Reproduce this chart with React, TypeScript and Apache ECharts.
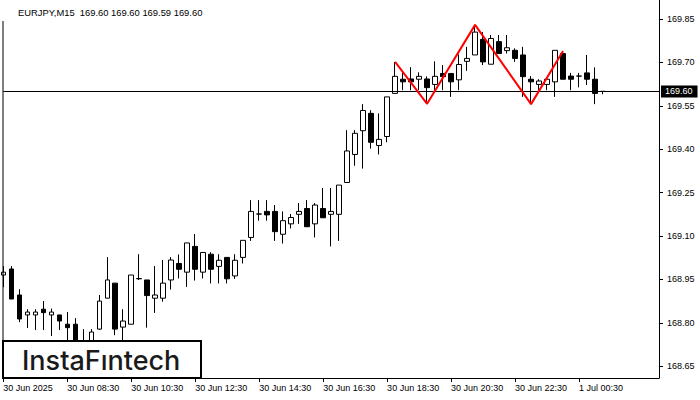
import React, { useEffect, useRef } from "react";
import * as echarts from "echarts";

const titleText = "EURJPY,M15  169.60 169.60 169.59 169.60";
const tickLabels = [
  "30 Jun 2025",
  "30 Jun 08:30",
  "30 Jun 10:30",
  "30 Jun 12:30",
  "30 Jun 14:30",
  "30 Jun 16:30",
  "30 Jun 18:30",
  "30 Jun 20:30",
  "30 Jun 22:30",
  "1 Jul 00:30",
];
const yTicks = [168.65, 168.8, 168.95, 169.1, 169.25, 169.4, 169.55, 169.7, 169.85];

const opens = [168.965,168.986,168.896,168.827,168.827,168.847,168.827,168.827,168.795,168.795,168.733,168.699,168.778,168.885,168.937,168.785,168.795,168.952,168.948,168.885,168.885,168.948,169.005,168.975,169.064,168.975,169.037,168.995,169.026,168.962,169.026,169.095,169.176,169.185,169.185,169.106,169.142,169.175,169.195,169.142,169.195,169.175,169.175,169.285,169.382,169.464,169.524,169.413,169.444,169.593,169.642,169.643,169.642,169.643,169.624,169.662,169.662,169.640,169.704,169.726,169.780,169.694,169.772,169.741,169.742,169.726,169.642,169.624,169.624,169.633,169.731,169.653,169.653,169.664,169.642,169.600];
const closes = [168.975,168.882,168.813,168.837,168.837,168.835,168.837,168.806,168.783,168.723,168.699,168.768,168.875,168.948,168.778,168.806,168.965,168.953,168.894,168.896,168.937,169.017,168.985,169.076,168.985,169.043,168.985,169.016,168.952,169.016,169.085,169.185,169.176,169.173,169.115,169.153,169.164,169.185,169.132,169.207,169.163,169.185,169.276,169.394,169.455,169.534,169.424,169.434,169.581,169.652,169.633,169.633,169.652,169.613,169.652,169.651,169.633,169.693,169.714,169.805,169.702,169.783,169.731,169.751,169.714,169.651,169.633,169.636,169.642,169.742,169.642,169.642,169.653,169.642,169.593,169.600];
const lows = [168.923,168.882,168.802,168.782,168.775,168.775,168.754,168.775,168.723,168.699,168.685,168.685,168.775,168.885,168.757,168.740,168.795,168.948,168.783,168.834,168.873,168.915,168.953,168.924,168.946,168.953,168.936,168.936,168.936,168.952,169.005,169.083,169.153,169.153,169.083,169.074,169.126,169.142,169.132,169.095,169.163,169.064,169.083,169.285,169.343,169.333,169.402,169.382,169.424,169.593,169.604,169.604,169.604,169.557,169.604,169.604,169.581,169.604,169.671,169.726,169.691,169.694,169.731,169.731,169.702,169.581,169.556,169.604,169.604,169.581,169.642,169.604,169.614,169.622,169.556,169.590];
const highs = [168.996,168.996,168.916,168.847,168.847,168.875,168.849,168.827,168.837,168.816,168.778,168.778,168.896,169.027,168.937,168.847,168.965,169.037,168.948,168.996,169.017,169.027,169.036,169.076,169.107,169.043,169.044,169.037,169.026,169.037,169.085,169.224,169.224,169.224,169.207,169.185,169.176,169.214,169.224,169.214,169.266,169.266,169.276,169.466,169.466,169.556,169.535,169.524,169.581,169.702,169.667,169.684,169.666,169.652,169.704,169.691,169.662,169.728,169.754,169.830,169.805,169.795,169.795,169.795,169.749,169.754,169.653,169.642,169.642,169.742,169.739,169.664,169.664,169.726,169.683,169.600];

const patternIdx = [49, 53, 59, 66, 70];
const patternPrice = [169.702, 169.557, 169.83, 169.556, 169.74];
const currentPrice = 169.6;

const START_MIN = 6 * 60 + 30;
const N_SLOTS = 83;
const categories = Array.from({ length: N_SLOTS }, (_, i) => {
  const m = START_MIN + 15 * i;
  const h = Math.floor(m / 60) % 24;
  const mm = m % 60;
  return `${String(h).padStart(2, "0")}:${String(mm).padStart(2, "0")}`;
});

const FONT = "Liberation Sans";

export default function App() {
  const ref = useRef<HTMLDivElement>(null);
  useEffect(() => {
    if (!ref.current) return;
    const chart = echarts.init(ref.current, undefined, { renderer: "svg" });
    const showTick = (i: number) => i % 8 === 0 && i <= 72;
    chart.setOption({
      animation: false,
      backgroundColor: "#ffffff",
      grid: { left: 3.3, right: 41, top: 0, bottom: 22, outerBoundsMode: "none" },
      xAxis: {
        type: "category",
        data: categories,
        boundaryGap: false,
        axisLine: { show: true, lineStyle: { color: "#000", width: 1 } },
        axisTick: { show: true, interval: (i: number) => showTick(i), length: 4, lineStyle: { color: "#000" } },
        axisLabel: {
          interval: (i: number) => showTick(i),
          formatter: (_v: string, i: number) => tickLabels[i / 8] ?? "",
          align: "left",
          color: "#000",
          fontSize: 9,
          fontFamily: FONT,
          margin: 5,
        },
        splitLine: { show: false },
      },
      yAxis: {
        type: "value",
        position: "right",
        min: 168.609,
        max: 169.916,
        scale: true,
        axisLine: { show: true, lineStyle: { color: "#000", width: 1 } },
        axisTick: { show: true, length: 4, customValues: yTicks, lineStyle: { color: "#000" } },
        axisLabel: {
          customValues: yTicks,
          formatter: (v: number) => v.toFixed(2),
          color: "#000",
          fontSize: 9,
          fontFamily: FONT,
          margin: 8,
        },
        splitLine: { show: false },
      },
      series: [
        {
          type: "candlestick",
          data: opens.map((o, i) => [o, closes[i], lows[i], highs[i]]),
          barWidth: 5,
          itemStyle: {
            color: "#ffffff",
            color0: "#000000",
            borderColor: "#000000",
            borderColor0: "#000000",
            borderWidth: 1,
          },
          emphasis: { disabled: true },
          markLine: {
            silent: true,
            symbol: ["none", "none"],
            data: [{ yAxis: currentPrice }],
            lineStyle: { color: "#000", width: 1, type: "solid" },
            label: {
              show: true,
              position: "end",
              formatter: currentPrice.toFixed(2),
              backgroundColor: "#000",
              color: "#fff",
              padding: [2, 5, 1, 4],
              fontSize: 9,
              fontFamily: FONT,
              distance: 2,
            },
          },
        },
        {
          type: "line",
          data: patternIdx.map((x, i) => [x, patternPrice[i]]),
          showSymbol: false,
          lineStyle: { color: "#ff0000", width: 2 },
          z: 5,
          silent: true,
        },
      ],
      graphic: [
        {
          type: "rect",
          shape: { x: 0, y: 0, width: 210, height: 21 },
          style: { fill: "#fff" },
          z: 10,
        },
        {
          type: "text",
          x: 18,
          y: 12,
          style: { text: titleText, fill: "#000", font: `9.4px "${FONT}"`, textVerticalAlign: "middle" },
          z: 11,
        },
        {
          type: "line",
          shape: { x1: 3, y1: 21, x2: 3, y2: 378 },
          style: { stroke: "#000", lineWidth: 1 },
          z: 11,
        },
        {
          type: "rect",
          shape: { x: 3, y: 341, width: 198, height: 37 },
          style: { fill: "#fff", stroke: "#000", lineWidth: 2 },
          z: 12,
        },
        {
          type: "text",
          x: 22,
          y: 360,
          style: {
            text: "InstaF\u0131ntech",
            fill: "#1a1a1a",
            font: '500 27px "Inter"',
            textVerticalAlign: "middle",
          },
          z: 13,
        },
      ],
    });
    return () => chart.dispose();
  }, []);
  return (
    <div
      ref={ref}
      style={{ position: "absolute", left: 0, top: 0, width: 700, height: 400 }}
    />
  );
}
